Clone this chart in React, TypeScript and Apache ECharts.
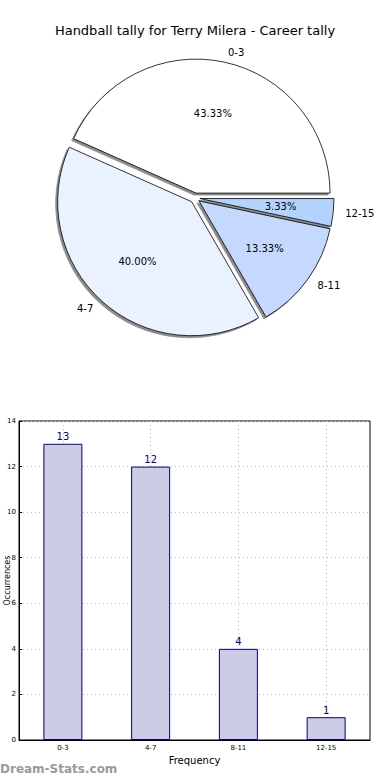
import React, { useEffect, useRef } from "react";
import * as echarts from "echarts";

const titleText = "Handball tally for Terry Milera - Career tally";
const categories = ["0-3", "4-7", "8-11", "12-15"];
const counts = [13, 12, 4, 1];
const pieColors = ["#ffffff", "#ebf2ff", "#c5d9ff", "#b3d3ff"];
const yMin = 0;
const yMax = 14;
const yStep = 2;
const xName = "Frequency";
const yName = "Occurrences";
const watermark = "Dream-Stats.com";

export default function App() {
  const ref = useRef<HTMLDivElement>(null);
  useEffect(() => {
    document.body.style.margin = "0";
    const chart = echarts.init(ref.current!, null, { renderer: "svg" });
    const font = "DejaVu Sans";
    const total = counts.reduce((a, b) => a + b, 0);
    const pieData = categories.map((c, i) => ({
      name: c,
      value: counts[i],
      selected: true,
      itemStyle: { color: pieColors[i] },
    }));
    chart.setOption({
      animation: false,
      textStyle: { fontFamily: font },
      title: {
        text: titleText,
        left: "center",
        top: 19,
        textStyle: { fontSize: 13, fontWeight: "normal", color: "#000", fontFamily: font },
      },
      graphic: [
        {
          type: "text",
          left: 0,
          top: 763,
          style: { text: watermark, fontSize: 12, fontWeight: "bold", fill: "#9a9a9a", fontFamily: font },
        },
      ],
      grid: {
        left: 19,
        right: 20,
        top: 421,
        bottom: 40,
        outerBoundsMode: "none",
        containLabel: false,
        show: true,
        borderColor: "#000",
        borderWidth: 1,
        backgroundColor: "transparent",
      },
      xAxis: {
        type: "category",
        data: categories,
        name: xName,
        nameLocation: "middle",
        nameGap: 15,
        nameTextStyle: { fontSize: 10, color: "#000", fontFamily: font },
        axisLine: { lineStyle: { color: "#000" } },
        axisTick: { show: true, alignWithLabel: true, inside: true, length: 3, lineStyle: { color: "#000" } },
        axisLabel: { fontSize: 7, color: "#000", margin: 4 },
        splitLine: { show: true, alignWithLabel: true, lineStyle: { color: "#bbb", type: [1, 3] } },
      },
      yAxis: {
        type: "value",
        min: yMin,
        max: yMax,
        interval: yStep,
        name: yName,
        nameLocation: "middle",
        nameGap: 8,
        nameMoveOverlap: false,
        nameTextStyle: { fontSize: 8, color: "#000", fontFamily: font },
        axisLine: { show: true, lineStyle: { color: "#000" } },
        axisTick: { show: true, inside: true, length: 3, lineStyle: { color: "#000" } },
        axisLabel: { fontSize: 7, color: "#000", margin: 3 },
        splitLine: { show: true, lineStyle: { color: "#bbb", type: [1, 3] } },
      },
      series: [
        {
          type: "pie",
          center: [195, 198],
          radius: 134,
          startAngle: 0,
          clockwise: false,
          selectedMode: "multiple",
          selectedOffset: 5,
          avoidLabelOverlap: false,
          silent: true,
          emphasis: { disabled: true },
          data: pieData,
          itemStyle: {
            borderColor: "#000",
            borderWidth: 0.8,
            shadowColor: "rgba(0,0,0,0.45)",
            shadowBlur: 0,
            shadowOffsetX: -2,
            shadowOffsetY: 2,
          },
          label: {
            show: true,
            position: "outside",
            formatter: "{b}",
            fontSize: 10,
            color: "#000",
            fontFamily: font,
            distanceToLabelLine: 2,
          },
          labelLine: { show: false, length: 10, length2: 0 },
        },
        {
          type: "pie",
          center: [195, 198],
          radius: 156,
          startAngle: 0,
          clockwise: false,
          selectedMode: "multiple",
          selectedOffset: 5,
          silent: true,
          z: 3,
          emphasis: { disabled: true },
          data: pieData.map((d) => ({ ...d, itemStyle: { color: "rgba(0,0,0,0)" } })),
          itemStyle: { borderWidth: 0, color: "rgba(0,0,0,0)" },
          label: {
            show: true,
            position: "inside",
            formatter: (p: any) => ((p.value / total) * 100).toFixed(2) + "%",
            fontSize: 10,
            color: "#000",
            fontFamily: font,
          },
          labelLine: { show: false },
        },
        {
          type: "bar",
          data: counts,
          barWidth: 39,
          itemStyle: { color: "#ccccE5", borderColor: "#000080", borderWidth: 1 },
          label: { show: true, position: "top", distance: 2, fontSize: 10, color: "#000080", fontFamily: font },
          silent: true,
        },
      ],
    });
    return () => chart.dispose();
  }, []);
  return <div ref={ref} style={{ width: 390, height: 780 }} />;
}
